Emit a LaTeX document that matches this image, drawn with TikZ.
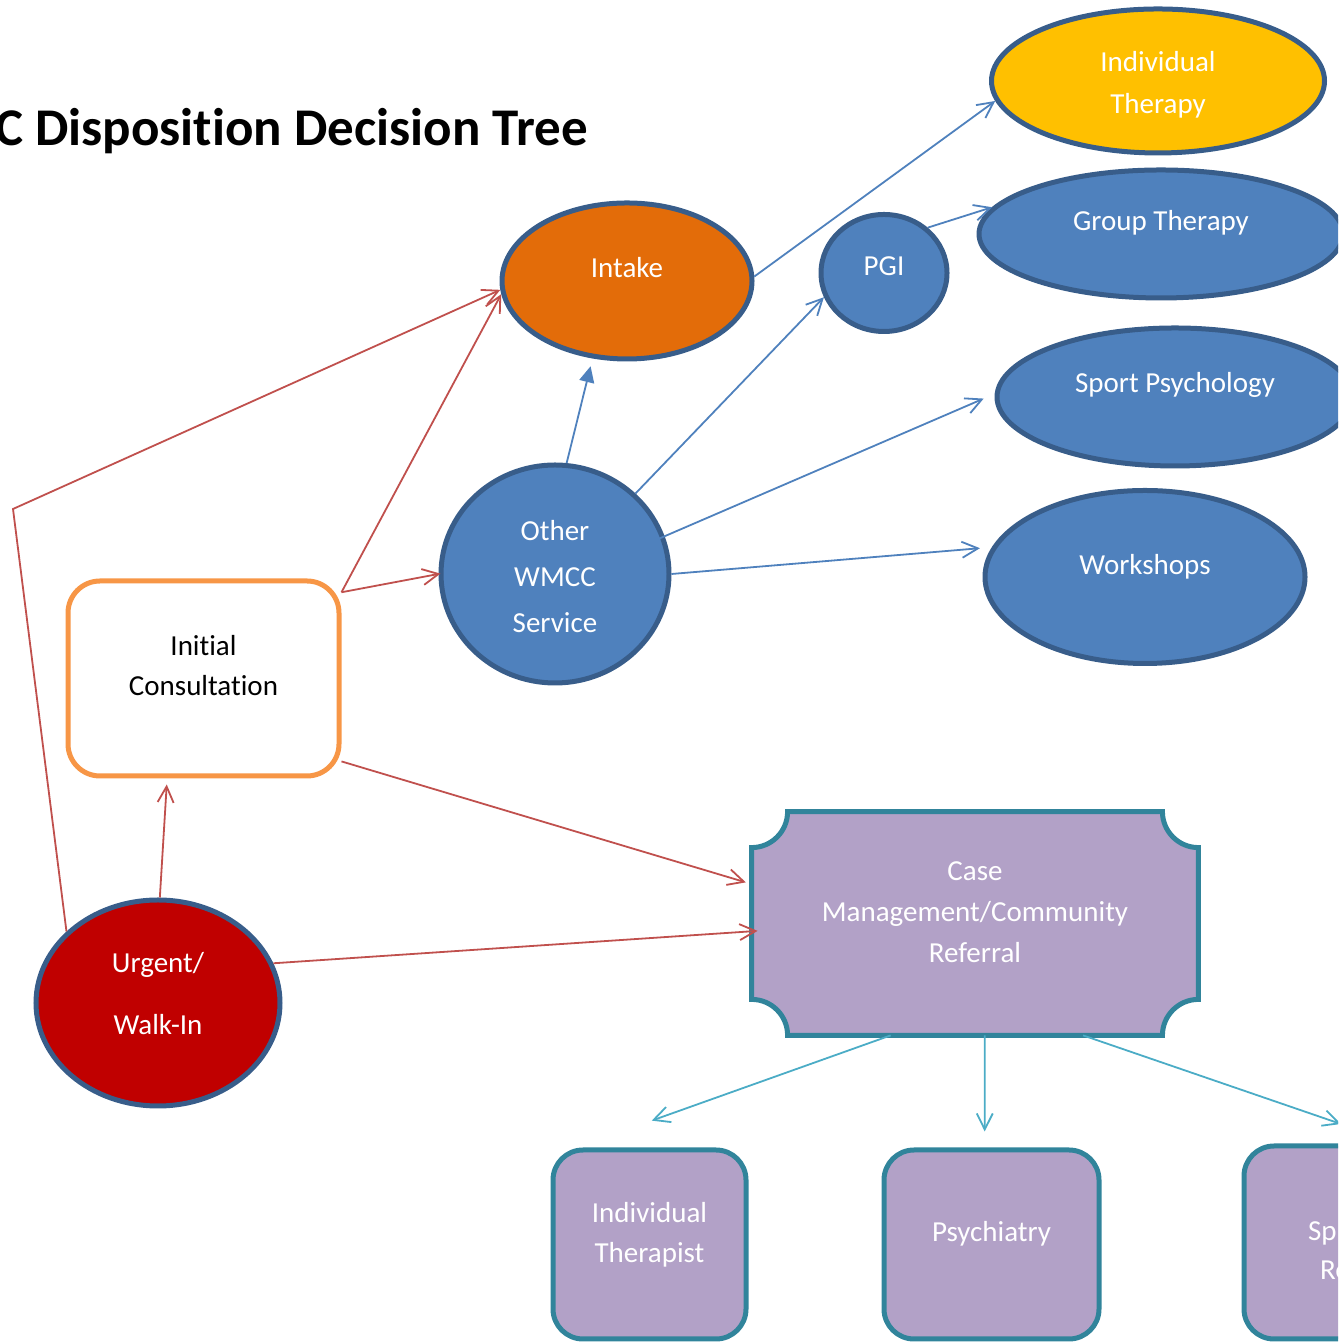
\documentclass[tikz,border=0pt]{standalone}
\usepackage{fontspec}
\setmainfont{Carlito}[Ligatures={NoCommon,NoContextual}, Contextuals=NoAlternate]
\usetikzlibrary{arrows.meta, shapes.geometric, backgrounds}
\definecolor{wmccBlue}{HTML}{4F81BD}
\definecolor{wmccEdge}{HTML}{385D8A}
\definecolor{intakeOrange}{HTML}{E36C09}
\definecolor{therapyGold}{HTML}{FFC000}
\definecolor{urgentRed}{HTML}{C00000}
\definecolor{consultOrange}{HTML}{F79646}
\definecolor{redLine}{HTML}{C0504D}
\definecolor{referralPurple}{HTML}{B2A1C7}
\definecolor{referralEdge}{HTML}{31849B}
\definecolor{tealLine}{HTML}{4BACC6}
\tikzset{%
  >={Straight Barb[length=8pt,width=8pt]},
  % Specifications for style of nodes:
    base/.style = {ellipse, draw=wmccEdge, line width=2.5pt, inner sep=0pt, fill=wmccBlue},
    txt/.style = {text=white, align=center, font=\fontsize{14.5}{17.5}\selectfont},
    intakeNode/.style = {base, fill=intakeOrange},
    therapyNode/.style = {base, fill=therapyGold},
    urgentNode/.style = {base, fill=urgentRed},
    consult/.style = {rectangle, rounded corners=16pt, draw=consultOrange, line width=2.5pt,
                      fill=white, inner sep=0pt},
    referral/.style = {rectangle, rounded corners=15pt, draw=referralEdge, line width=2.5pt,
                       fill=referralPurple, inner sep=0pt},
    plaque/.style = {draw=referralEdge, line width=2.5pt, fill=referralPurple},
  % Specifications for style of lines:
    redArrow/.style = {->, draw=redLine, line width=0.9pt},
    blueArrow/.style = {->, draw=wmccBlue, line width=0.9pt},
    tealArrow/.style = {->, draw=tealLine, line width=0.9pt},
}

\begin{document}
\begin{tikzpicture}[x=1pt, y=1pt]
  \useasboundingbox (0,0) rectangle (669,671);
  \clip (0,0) rectangle (669,671);

  \node (title) [anchor=base west, font=\fontsize{26.5}{32}\selectfont\bfseries] at (-6,598)
                                                                {C Disposition Decision Tree};

  \node (indivTherapy) [therapyNode, minimum width=166.5pt, minimum height=72pt,
        label={[txt, font=\fontsize{14.5}{21}\selectfont, yshift=-2pt]center:{Individual\\Therapy}}] at (579,630.5) {};
  \node (group)      [base, minimum width=182pt, minimum height=64pt,
        label={[txt, yshift=5.5pt]center:Group Therapy}] at (580.5,554) {};
  \node (pgi)        [base, minimum width=63pt, minimum height=58.5pt,
        label={[txt, yshift=3.5pt]center:PGI}] at (442,534.5) {};
  \node (intake)     [intakeNode, minimum width=125pt, minimum height=78pt,
        label={[txt, yshift=6.5pt]center:Intake}] at (313.5,530.5) {};
  \node (sport)      [base, minimum width=178pt, minimum height=69pt,
        label={[txt, yshift=6pt]center:Sport Psychology}] at (587.5,472.5) {};
  \node (workshops)  [base, minimum width=160pt, minimum height=86.5pt,
        label={[txt, yshift=5pt]center:Workshops}] at (572.5,382.5) {};
  \node (other)      [base, minimum width=114pt, minimum height=109pt,
        label={[txt, font=\fontsize{14.5}{23}\selectfont, yshift=-1.5pt]center:{Other\\WMCC\\Service}}]
                                                                at (277.5,384) {};
  \node (initial)    [consult, minimum width=135.5pt, minimum height=97.5pt,
        label={[txt, text=black, font=\fontsize{14.5}{20}\selectfont, yshift=6.5pt]center:{Initial\\Consultation}}]
                                                                at (101.75,331.75) {};
  \node (urgent)     [urgentNode, minimum width=122pt, minimum height=103pt,
        label={[txt, font=\fontsize{14.5}{31}\selectfont, yshift=4.5pt]center:{Urgent/\\Walk-In}}]
                                                                at (79,169.5) {};
  \node (case)       [rectangle, minimum width=223pt, minimum height=111.5pt, inner sep=0pt,
        label={[txt, font=\fontsize{14.5}{20.5}\selectfont, yshift=5.5pt]center:{Case\\Management/Community\\Referral}}]
                                                                at (487.5,209.25) {};
  \node (therapist)  [referral, minimum width=96.5pt, minimum height=94.5pt,
        label={[txt, font=\fontsize{14.5}{20}\selectfont, yshift=5pt]center:{Individual\\Therapist}}]
                                                                at (324.75,48.75) {};
  \node (psychiatry) [referral, minimum width=107.5pt, minimum height=94.5pt,
        label={[txt, yshift=5.5pt]center:Psychiatry}] at (495.75,48.75) {};
  \node (spRef)      [referral, minimum width=107.5pt, minimum height=96.5pt,
        label={[txt, font=\fontsize{14.5}{19.5}\selectfont, text width=43.5pt, align=left, yshift=-4pt]center:{Sp\\\hspace*{6pt}Re}}]
                                                                at (675.75,49.75) {};

  % Scooped outline behind the case management node
  \begin{scope}[on background layer]
    \filldraw[plaque] ([xshift=18pt]case.north west) -- ([xshift=-18pt]case.north east)
      arc[start angle=180, end angle=270, radius=18pt] -- ([yshift=18pt]case.south east)
      arc[start angle=90, end angle=180, radius=18pt] -- ([xshift=18pt]case.south west)
      arc[start angle=0, end angle=90, radius=18pt] -- ([yshift=-18pt]case.north west)
      arc[start angle=270, end angle=360, radius=18pt] -- cycle;
  \end{scope}

  \coordinate (bendUrgent) at (6.5,416.5);

  % Specification of lines between nodes
  \draw[redArrow, shorten >=3pt]  (urgent.89) -- (initial.250);
  \draw[redArrow]                 (urgent.142) -- (bendUrgent) -- (intake.184);
  \draw[redArrow, shorten >=-3pt] (urgent.19) -- (case.182);
  \draw[redArrow]                 (initial.32) -- (intake.186);
  \draw[redArrow, shorten >=-1pt] (initial.32) -- (other.west);
  \draw[redArrow, shorten >=3pt]  (initial.329) -- (case.170);
  \draw[blueArrow, -{Triangle[length=8pt,width=7.5pt]}, shorten >=4pt]
                                  (other.84) -- (intake.246);
  \draw[blueArrow]                (other.45) -- (pgi.202);
  \draw[blueArrow, shorten <=-4pt, shorten >=6pt] (other.19) -- (sport.179);
  \draw[blueArrow, shorten >=6pt] (other.east) -- (workshops.169);
  \draw[blueArrow]                (intake.2) -- (indivTherapy.187);
  \draw[blueArrow]                (pgi.46) -- (group.171);
  \draw[tealArrow, shorten >=40pt] (case.233) -- (therapist.127);
  \draw[tealArrow, shorten >=8pt]  (case.275) -- (psychiatry.94);
  \draw[tealArrow, shorten >=30pt] (case.314) -- (spRef.65);
\end{tikzpicture}
\end{document}
